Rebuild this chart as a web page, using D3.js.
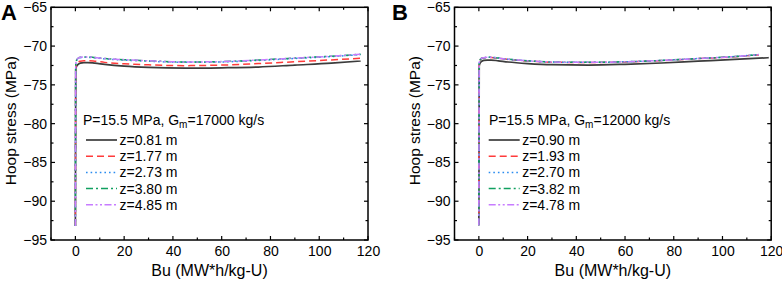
<!DOCTYPE html>
<html>
<head>
<meta charset="utf-8">
<script src="https://cdn.jsdelivr.net/npm/d3@7"></script>
<style>
  body { margin: 0; background: #fff; }
  svg { display: block; font-family: "Liberation Sans", Arial, sans-serif; }
</style>
</head>
<body>
<div id="chart"></div>
<script>
// Shared axis ticks
const xTicks = [0, 20, 40, 60, 80, 100, 120];
const yTicks = [-65, -70, -75, -80, -85, -90, -95];

// Panel A: P=15.5 MPa, Gm=17000 kg/s
const buA = [0, 0.15, 0.5, 1, 2, 3.5, 5, 8, 12, 20, 30, 45, 60, 75, 90, 105, 117];
const a081 = [-93.2, -73.0, -72.6, -72.4, -72.2, -72.12, -72.12, -72.2, -72.35, -72.58, -72.75, -72.85, -72.8, -72.7, -72.45, -72.2, -71.92];
const a177 = [-93.2, -72.8, -72.35, -72.1, -71.95, -71.88, -71.88, -71.95, -72.1, -72.28, -72.42, -72.52, -72.45, -72.25, -72.02, -71.78, -71.57];
const a273 = [-93.2, -72.35, -71.85, -71.65, -71.5, -71.45, -71.45, -71.52, -71.65, -71.8, -71.95, -72.1, -72.05, -71.85, -71.6, -71.35, -71.1];
const a380 = [-93.2, -72.3, -71.8, -71.6, -71.45, -71.4, -71.4, -71.48, -71.6, -71.75, -71.9, -72.05, -72.0, -71.8, -71.55, -71.3, -71.06];
const a485 = [-93.2, -72.3, -71.8, -71.6, -71.45, -71.4, -71.4, -71.48, -71.6, -71.75, -71.9, -72.05, -72.0, -71.8, -71.55, -71.3, -71.06];

// Panel B: P=15.5 MPa, Gm=12000 kg/s
const buB0 = [0, 0.15, 0.5, 1, 2, 3.5, 5, 8, 12, 20, 30, 45, 60, 75, 90, 105, 119];
const buB = [0, 0.15, 0.5, 1, 2, 3.5, 5, 8, 12, 20, 30, 45, 60, 75, 90, 105, 115];
const b090 = [-93.1, -72.6, -72.2, -72.0, -71.85, -71.8, -71.8, -71.9, -72.05, -72.25, -72.4, -72.45, -72.35, -72.18, -71.95, -71.72, -71.5];
const b193 = [-93.1, -72.25, -71.82, -71.62, -71.52, -71.47, -71.47, -71.57, -71.72, -71.92, -72.07, -72.12, -72.04, -71.87, -71.62, -71.37, -71.12];
const b270 = [-93.1, -72.2, -71.8, -71.6, -71.5, -71.45, -71.45, -71.55, -71.7, -71.9, -72.05, -72.1, -72.02, -71.85, -71.6, -71.35, -71.1];
const b382 = [-93.1, -72.2, -71.8, -71.6, -71.5, -71.45, -71.45, -71.55, -71.7, -71.9, -72.05, -72.1, -72.02, -71.85, -71.6, -71.35, -71.1];
const b478 = [-93.1, -72.2, -71.8, -71.6, -71.5, -71.45, -71.45, -71.55, -71.7, -71.9, -72.05, -72.1, -72.02, -71.85, -71.6, -71.35, -71.1];

const styles = [
  { color: '#3c3c3c', dash: null, width: 1.7 },
  { color: '#ff3b3b', dash: '7,4', width: 1.5 },
  { color: '#2a8cf0', dash: '1.6,3', width: 1.5 },
  { color: '#10a060', dash: '7,3,2,3', width: 1.5 },
  { color: '#c77cff', dash: '7,2.5,2,2.5,2,2.5', width: 1.5 }
];

const panels = [
  {
    letter: 'A', ox: 0, left: 51, labelX: 83, lineX: 86,
    gm: '17000',
    series: [
      { name: 'z=0.81 m', x: buA, y: a081 },
      { name: 'z=1.77 m', x: buA, y: a177 },
      { name: 'z=2.73 m', x: buA, y: a273 },
      { name: 'z=3.80 m', x: buA, y: a380 },
      { name: 'z=4.85 m', x: buA, y: a485 }
    ]
  },
  {
    letter: 'B', ox: 391, left: 63.5, labelX: 98, lineX: 97.7,
    gm: '12000',
    series: [
      { name: 'z=0.90 m', x: buB0, y: b090 },
      { name: 'z=1.93 m', x: buB, y: b193 },
      { name: 'z=2.70 m', x: buB, y: b270 },
      { name: 'z=3.82 m', x: buB, y: b382 },
      { name: 'z=4.78 m', x: buB, y: b478 }
    ]
  }
];

const W = 782, H = 285;
const svg = d3.select('#chart').append('svg')
  .attr('width', W).attr('height', H);

const plotTop = 7.3, plotBottom = 240;

panels.forEach(p => {
  const g = svg.append('g').attr('transform', `translate(${p.ox},0)`);
  const right = p.left + (p.ox === 0 ? 317 : 316.7);

  const x = d3.scaleLinear().domain([-10, 120]).range([p.left, right]);
  const y = d3.scaleLinear().domain([-95, -65]).range([plotBottom, plotTop]);

  // Curves
  const plot = g.append('g');
  p.series.forEach((s, i) => {
    const pts = s.x.map((bx, j) => [bx, s.y[j]]);
    const line = d3.line().x(d => x(d[0])).y(d => y(d[1])).curve(d3.curveMonotoneX);
    plot.append('path')
      .attr('d', line(pts))
      .attr('fill', 'none')
      .attr('stroke', styles[i].color)
      .attr('stroke-width', styles[i].width)
      .attr('stroke-dasharray', styles[i].dash);
  });

  // Frame
  g.append('rect')
    .attr('x', p.left).attr('y', plotTop)
    .attr('width', right - p.left).attr('height', plotBottom - plotTop)
    .attr('fill', 'none').attr('stroke', '#000').attr('stroke-width', 1.5);

  const minorX = d3.range(-10, 121, 10);
  const minorY = d3.range(-95, -64, 2.5);

  // Bottom axis labels
  const xAxis = g.append('g').attr('transform', `translate(0,${plotBottom})`)
    .call(d3.axisBottom(x).tickValues(xTicks).tickSize(0).tickPadding(6));
  xAxis.select('.domain').remove();
  xAxis.selectAll('text').attr('font-size', 14).attr('fill', '#000')
    .attr('font-family', '"Liberation Sans", Arial, sans-serif');

  const yAxis = g.append('g').attr('transform', `translate(${p.left},0)`)
    .call(d3.axisLeft(y).tickValues(yTicks).tickSize(0).tickPadding(4)
      .tickFormat(d => d3.format('d')(d)));
  yAxis.select('.domain').remove();
  yAxis.selectAll('text').attr('font-size', 14).attr('fill', '#000')
    .attr('font-family', '"Liberation Sans", Arial, sans-serif');

  // Tick marks on all four sides, pointing inward
  const tk = g.append('g').attr('stroke', '#000').attr('stroke-width', 1.2);
  minorX.forEach(v => {
    const len = xTicks.includes(v) ? 4 : 2.5;
    tk.append('line').attr('x1', x(v)).attr('x2', x(v)).attr('y1', plotBottom).attr('y2', plotBottom - len);
    tk.append('line').attr('x1', x(v)).attr('x2', x(v)).attr('y1', plotTop).attr('y2', plotTop + len);
  });
  minorY.forEach(v => {
    const len = yTicks.includes(v) ? 4 : 2.5;
    tk.append('line').attr('x1', p.left).attr('x2', p.left + len).attr('y1', y(v)).attr('y2', y(v));
    tk.append('line').attr('x1', right).attr('x2', right - len).attr('y1', y(v)).attr('y2', y(v));
  });

  // Axis titles
  g.append('text')
    .attr('x', (p.left + right) / 2).attr('y', 276)
    .attr('text-anchor', 'middle').attr('font-size', 16)
    .text('Bu (MW*h/kg-U)');
  g.append('text')
    .attr('transform', `translate(${p.left - 35},${(plotTop + plotBottom) / 2 - 3}) rotate(-90)`)
    .attr('text-anchor', 'middle').attr('font-size', 15.5)
    .text('Hoop stress (MPa)');

  // Panel letter
  g.append('text')
    .attr('x', 1).attr('y', 20)
    .attr('font-size', 22).attr('font-weight', 'bold')
    .text(p.letter);

  // Legend
  const lg = g.append('g');
  const title = lg.append('text')
    .attr('x', p.labelX).attr('y', 125).attr('font-size', 14);
  title.append('tspan').text('P=15.5 MPa, G');
  title.append('tspan').attr('font-size', 10).attr('dy', 3).text('m');
  title.append('tspan').attr('dy', -3).text('=' + p.gm + ' kg/s');

  p.series.forEach((s, i) => {
    const cy = 140 + i * 16.2;
    lg.append('line')
      .attr('x1', p.lineX).attr('x2', p.lineX + 31)
      .attr('y1', cy).attr('y2', cy)
      .attr('stroke', styles[i].color).attr('stroke-width', styles[i].width)
      .attr('stroke-dasharray', styles[i].dash);
    lg.append('text')
      .attr('x', p.lineX + 33.5).attr('y', cy + 5)
      .attr('font-size', 14)
      .text(s.name);
  });
});
</script>
</body>
</html>
